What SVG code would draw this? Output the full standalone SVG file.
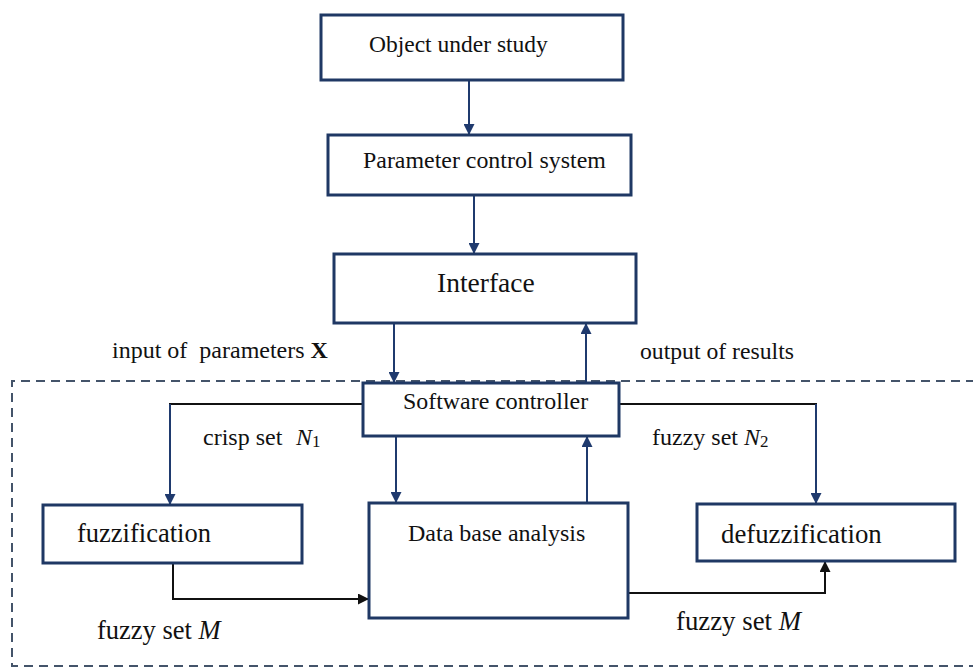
<svg xmlns="http://www.w3.org/2000/svg" width="973" height="668" viewBox="0 0 973 668">
  <defs>
    <style>
      .box { fill: #ffffff; stroke: #1f3864; stroke-width: 3; }
      .t { font-family: "Liberation Serif", "Times New Roman", Times, serif; fill: #111111; white-space: pre; }
      .nv { fill: none; stroke: #1f3a6e; stroke-width: 2; }
      .bk { fill: none; stroke: #111111; stroke-width: 2; }
      .dash { fill: none; stroke: #44546a; stroke-width: 2; stroke-dasharray: 9 6; }
      .it { font-style: italic; }
      .sub { font-size: 17px; }
    </style>
    <marker id="ahNavy" viewBox="0 0 10 10" refX="10" refY="5" markerWidth="11" markerHeight="11" markerUnits="userSpaceOnUse" orient="auto">
      <path d="M0,0 L10,5 L0,10 Z" fill="#1f3a6e"/>
    </marker>
    <marker id="ahBlack" viewBox="0 0 10 10" refX="10" refY="5" markerWidth="11" markerHeight="11" markerUnits="userSpaceOnUse" orient="auto">
      <path d="M0,0 L10,5 L0,10 Z" fill="#111111"/>
    </marker>
  </defs>

  <rect width="973" height="668" fill="#ffffff"/>

  <!-- software boundary -->
  <path class="dash" d="M975,381 L12,381 L12,666 L975,666"/>

  <!-- connectors -->
  <g id="connectors">
    <line class="nv" x1="469" y1="80" x2="469" y2="135" marker-end="url(#ahNavy)"/>
    <line class="nv" x1="474" y1="195" x2="474" y2="254" marker-end="url(#ahNavy)"/>
    <line class="nv" x1="394" y1="323" x2="394" y2="383" marker-end="url(#ahNavy)"/>
    <line class="nv" x1="586" y1="383" x2="586" y2="323" marker-end="url(#ahNavy)"/>
    <!-- controller to fuzzification -->
    <line class="bk" x1="363" y1="404" x2="169" y2="404"/>
    <line class="nv" x1="170" y1="404" x2="170" y2="505" marker-end="url(#ahNavy)"/>
    <!-- controller to defuzzification -->
    <line class="bk" x1="619" y1="404" x2="817" y2="404"/>
    <line class="nv" x1="816" y1="404" x2="816" y2="504" marker-end="url(#ahNavy)"/>
    <!-- controller and data base -->
    <line class="nv" x1="396" y1="436" x2="396" y2="503" marker-end="url(#ahNavy)"/>
    <line class="nv" x1="587" y1="503" x2="587" y2="436" marker-end="url(#ahNavy)"/>
    <!-- fuzzification to data base -->
    <polyline class="bk" points="173,563 173,599 369,599" marker-end="url(#ahBlack)"/>
    <!-- data base to defuzzification -->
    <polyline class="bk" points="628,593 825,593 825,561" marker-end="url(#ahBlack)"/>
  </g>

  <g id="object">
    <rect class="box" x="321" y="15" width="302" height="65"/>
    <text class="t" x="369" y="52" font-size="23.5">Object under study</text>
  </g>
  <g id="parameter-control">
    <rect class="box" x="328" y="135" width="303" height="60"/>
    <text class="t" x="363" y="168" font-size="23.9">Parameter control system</text>
  </g>
  <g id="interface">
    <rect class="box" x="334" y="254" width="302" height="69"/>
    <text class="t" x="437" y="292" font-size="27.5">Interface</text>
  </g>
  <g id="software-controller">
    <rect class="box" x="363" y="383" width="256" height="53"/>
    <text class="t" x="403" y="409" font-size="23.9">Software controller</text>
  </g>
  <g id="fuzzification">
    <rect class="box" x="43" y="505" width="259" height="58"/>
    <text class="t" x="77" y="542" font-size="26.5">fuzzification</text>
  </g>
  <g id="data-base">
    <rect class="box" x="369" y="503" width="259" height="115"/>
    <text class="t" x="408" y="541" font-size="24">Data base analysis</text>
  </g>
  <g id="defuzzification">
    <rect class="box" x="697" y="504" width="258" height="57"/>
    <text class="t" x="721" y="543" font-size="26.8">defuzzification</text>
  </g>

  <!-- connector labels -->
  <g id="labels">
    <text class="t" x="112" y="358" font-size="24">input of  parameters <tspan font-weight="bold">X</tspan></text>
    <text class="t" x="640" y="359" font-size="23.7">output of results</text>
    <text class="t" x="203" y="445" font-size="24">crisp set<tspan class="it" x="296">N</tspan><tspan class="sub" dy="2">1</tspan></text>
    <text class="t" x="652" y="445" font-size="24">fuzzy set <tspan class="it">N</tspan><tspan class="sub" dy="2">2</tspan></text>
    <text class="t" x="97" y="639" font-size="26.5">fuzzy set <tspan class="it">M</tspan></text>
    <text class="t" x="676" y="630" font-size="26.8">fuzzy set <tspan class="it">M</tspan></text>
  </g>
</svg>
